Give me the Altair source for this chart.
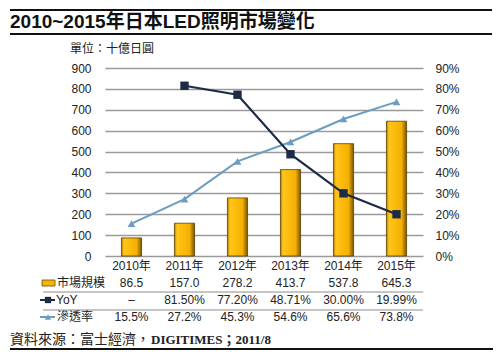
import altair as alt
import pandas as pd

years = ["2010年", "2011年", "2012年", "2013年", "2014年", "2015年"]
market = [86.5, 157.0, 278.2, 413.7, 537.8, 645.3]
yoy = [None, 81.50, 77.20, 48.71, 30.00, 19.99]
penetration = [15.5, 27.2, 45.3, 54.6, 65.6, 73.8]

title_text = "2010~2015年日本LED照明市場變化"
unit_text = "單位：十億日圓"
source_cjk = "資料來源：富士經濟，"
source_latin = "DIGITIMES；2011/8"
row_names = ["市場規模", "YoY", "滲透率"]

df = pd.DataFrame({
    "year": years,
    "market": market,
    "yoy": yoy,
    "pen": penetration,
    "market_label": [f"{v:.1f}" for v in market],
    "yoy_label": ["–" if v is None else f"{v:.2f}%" for v in yoy],
    "pen_label": [f"{v:.1f}%" for v in penetration],
})

SANS = "Liberation Sans, Noto Sans CJK TC"
CJK = "Noto Sans CJK TC"
TXT = "#222222"
GOLD = "#F6B400"
NAVY = "#1E2B47"
SKY = "#6B9DBF"

xscale = alt.Scale(paddingInner=0.62, paddingOuter=0.31)
x_enc = alt.X("year:N", sort=years, scale=xscale, title=None,
              axis=alt.Axis(labelAngle=0, domain=False, ticks=False, labelPadding=4,
                            labelFont=SANS, labelFontSize=12, labelColor=TXT))

base = alt.Chart(df)

grad = alt.Gradient(
    gradient="linear",
    stops=[alt.GradientStop(color="#B07A00", offset=0),
           alt.GradientStop(color="#FFC61A", offset=0.12),
           alt.GradientStop(color="#F5B000", offset=0.75),
           alt.GradientStop(color="#7A5500", offset=1)],
    x1=0, x2=1, y1=0, y2=0)

bars = base.mark_bar(color=grad, stroke="#5A4300", strokeWidth=0.8).encode(
    x=x_enc,
    y=alt.Y("market:Q", scale=alt.Scale(domain=[0, 900]), title=None,
            axis=alt.Axis(orient="left", values=list(range(0, 1000, 100)), grid=True,
                          gridColor="#9A9A9A", gridWidth=1.5, domain=False, ticks=False,
                          labelPadding=14, labelFont=SANS, labelFontSize=12, labelColor=TXT)),
)

pen_line = base.mark_line(color=SKY, strokeWidth=2,
                          point=alt.OverlayMarkDef(shape="triangle-up", size=60, filled=True, color=SKY)).encode(
    x=x_enc,
    y=alt.Y("pen:Q", scale=alt.Scale(domain=[0, 90]), title=None,
            axis=alt.Axis(orient="right", values=list(range(0, 100, 10)), grid=False,
                          domain=False, ticks=False, labelPadding=12,
                          labelExpr="datum.value + '%'",
                          labelFont=SANS, labelFontSize=12, labelColor=TXT)),
)

yoy_line = base.mark_line(color=NAVY, strokeWidth=2.2,
                          point=alt.OverlayMarkDef(shape="square", size=70, filled=True, color=NAVY)).encode(
    x=x_enc,
    y=alt.Y("yoy:Q", scale=alt.Scale(domain=[0, 90]), axis=None),
)

def row_text(field, ypix):
    return base.mark_text(font=SANS, fontSize=12, color=TXT, baseline="middle").encode(
        x=x_enc, y=alt.value(ypix), text=f"{field}:N")

t1 = row_text("market_label", 215)
t2 = row_text("yoy_label", 232)
t3 = row_text("pen_label", 249)

deco = alt.Chart(pd.DataFrame({"d": [0]}))

def rule(x1, x2, y, color, w):
    return deco.mark_rule(color=color, strokeWidth=w).encode(
        x=alt.value(x1), x2=alt.value(x2), y=alt.value(y))

def label(txt, x, y, size, font=CJK, weight="normal", color=TXT):
    return deco.mark_text(text=txt, font=font, fontSize=size, fontWeight=weight, color=color,
                          align="left", baseline="middle").encode(x=alt.value(x), y=alt.value(y))

row_lines = rule(-62, 318, 224, "#8C8C8C", 1) + rule(-62, 318, 242, "#8C8C8C", 1)
top_lines = rule(-95, 387, -58, "#111111", 2) + rule(-95, 387, -34, "#111111", 2)
bottom_line = rule(-95, 388, 281, "#111111", 2)

title = label(title_text, -95, -46, 19, font=SANS, weight="bold", color="#111111")
unit = label(unit_text, -35, -19, 12)
src1 = label(source_cjk, -95, 272, 14)
src2 = label(source_latin, 46, 272, 13, font="Liberation Serif, Noto Sans CJK TC", weight="bold")

leg_names = label(row_names[0], -48, 215, 12) + label(row_names[1], -49, 232, 12, font=SANS) \
    + label(row_names[2], -48, 249, 12)

icon_bar = deco.mark_point(shape="square", filled=True, color=GOLD, stroke="#6A5000",
                           strokeWidth=0.8, opacity=1).encode(
    x=alt.value(-57), y=alt.value(215), size=alt.value(40))
icon_bar2 = deco.mark_rect(color=GOLD, stroke="#6A5000", strokeWidth=0.8).encode(
    x=alt.value(-63), x2=alt.value(-50), y=alt.value(212), y2=alt.value(218))
icon_yoy = rule(-65, -50, 232, NAVY, 2) + deco.mark_point(shape="square", filled=True, color=NAVY,
                                                          opacity=1).encode(
    x=alt.value(-57), y=alt.value(232), size=alt.value(40))
icon_pen = rule(-65, -50, 249, SKY, 2) + deco.mark_point(shape="triangle-up", filled=True, color=SKY,
                                                         opacity=1).encode(
    x=alt.value(-57), y=alt.value(249), size=alt.value(40))

chart = alt.layer(
    bars, pen_line, yoy_line, t1, t2, t3,
    row_lines, top_lines, bottom_line, title, unit, src1, src2,
    leg_names, icon_bar2, icon_yoy, icon_pen,
).resolve_scale(y="independent").properties(
    width=318, height=188, autosize="none",
    padding={"left": 105, "top": 68, "right": 76, "bottom": 96},
    background="white",
).configure_view(stroke=None)

chart.save("out.html", embed_options={"renderer": "svg", "actions": False})
